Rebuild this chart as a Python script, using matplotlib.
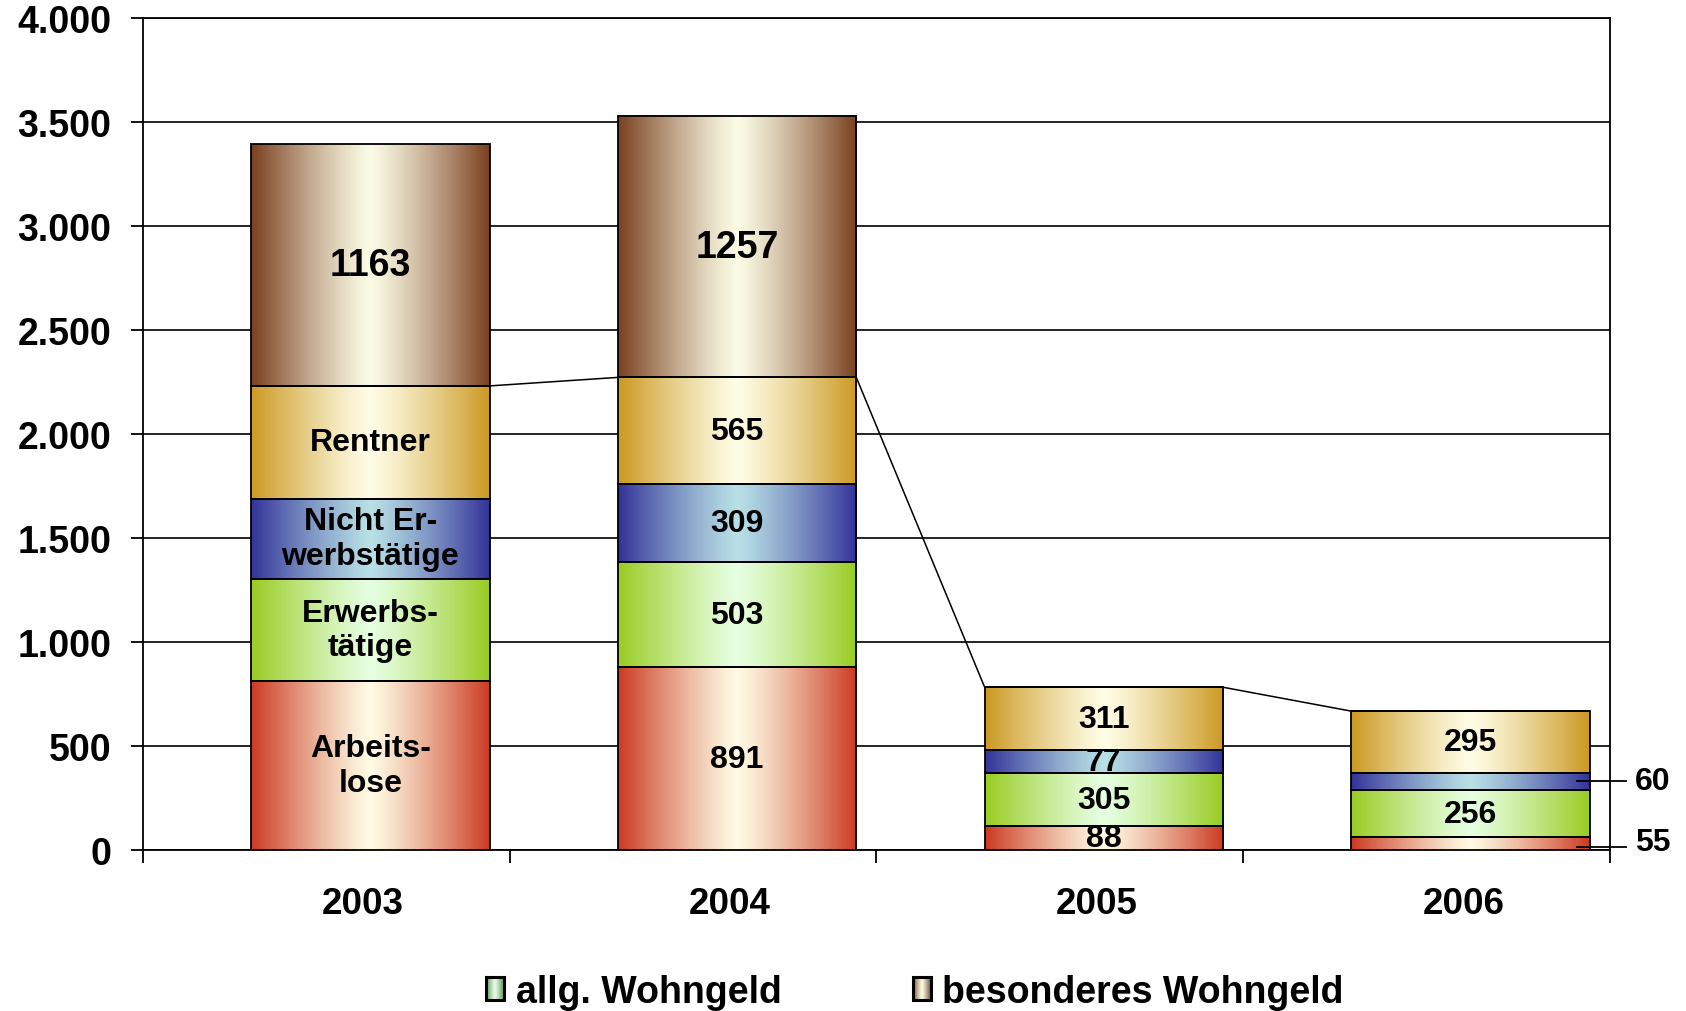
"""
Wohngeldempfaenger 2003-2006 as stacked bars with horizontal gradient fills.
"""

import numpy as np
import matplotlib
matplotlib.use('Agg')
import matplotlib.pyplot as plt
from matplotlib.colors import to_rgb
from matplotlib.patches import Rectangle

plt.rcParams['font.family'] = ['Liberation Sans', 'DejaVu Sans']
plt.rcParams['font.weight'] = 'bold'

# --- data -------------------------------------------------------------
years = ['2003', '2004', '2005', '2006']
groups = ['Arbeitslose', 'Erwerbstätige', 'Nicht Erwerbstätige', 'Rentner', 'besonderes Wohngeld']

# segment heights as drawn (bottom to top)
arbeitslose = [811, 878, 115, 64]
erwerbstaetige = [493, 506, 256, 223]
nicht_erwerbstaetige = [386, 376, 109, 86]
rentner = [542, 513, 303, 295]
besonderes = [1163, 1257, 0, 0]

# label texts written in the segments
labels_arbeitslose = ['Arbeits-\nlose', '891', '88', '']
labels_erwerbstaetige = ['Erwerbs-\ntätige', '503', '305', '256']
labels_nicht = ['Nicht Er-\nwerbstätige', '309', '77', '']
labels_rentner = ['Rentner', '565', '311', '295']
labels_besonderes = ['1163', '1257', '', '']
outside_labels = ['55', '60']  # 2006: Arbeitslose, Nicht Erwerbstätige

legend_labels = ['allg. Wohngeld', 'besonderes Wohngeld']
yticks = [0, 500, 1000, 1500, 2000, 2500, 3000, 3500, 4000]

# edge colour / centre colour of each gradient
grad_colors = [
    ('#cc3a22', '#fffbe4'),
    ('#99cc22', '#e6ffe2'),
    ('#333399', '#b8e0e6'),
    ('#cc9922', '#fffde6'),
    ('#7a4020', '#fcfce6'),
]
legend_grad = [('#4c9a4c', '#eafaea'), ('#6e4a30', '#fcfce6')]


def gradient_image(edge, centre, n=256, power=1.2):
    """1 x n RGB image: edge colour at both sides, centre colour in the middle."""
    t = np.abs(np.linspace(-1, 1, n)) ** power
    e = np.array(to_rgb(edge))
    c = np.array(to_rgb(centre))
    img = c[None, :] + (e - c)[None, :] * t[:, None]
    return img[None, :, :]


fig = plt.figure(figsize=(16.86, 10.12), dpi=100)
ax = fig.add_axes([0.0848, 0.159, 0.8701, 0.822])

x = np.arange(len(years))
offset = 0.12
width = 0.65
series = [arbeitslose, erwerbstaetige, nicht_erwerbstaetige, rentner, besonderes]
series_labels = [labels_arbeitslose, labels_erwerbstaetige, labels_nicht,
                 labels_rentner, labels_besonderes]

bottom = np.zeros(len(years))
rentner_top = None
for vals, texts, (edge, centre) in zip(series, series_labels, grad_colors):
    vals = np.array(vals, dtype=float)
    bars = ax.bar(x + offset, vals, width, bottom=bottom, facecolor='none',
                  edgecolor='black', linewidth=1.3, zorder=4)
    img = gradient_image(edge, centre)
    for rect, txt in zip(bars, texts):
        if rect.get_height() <= 0:
            continue
        x0, y0 = rect.get_x(), rect.get_y()
        x1, y1 = x0 + rect.get_width(), y0 + rect.get_height()
        ax.imshow(img, extent=[x0, x1, y0, y1], aspect='auto',
                  interpolation='bilinear', zorder=3)
        if txt:
            size = 27 if txt in ('1163', '1257') else 23
            ax.text(x0 + rect.get_width() / 2, y0 + rect.get_height() / 2, txt,
                    ha='center', va='center', fontsize=size, fontweight='bold',
                    linespacing=1.2, zorder=5)
    bottom = bottom + vals
    if texts is labels_rentner:
        rentner_top = bottom.copy()

# series lines between the tops of the allg. Wohngeld stacks
for i in range(len(years) - 1):
    ax.plot([x[i] + offset + width / 2, x[i + 1] + offset - width / 2],
            [rentner_top[i], rentner_top[i + 1]], color='black', lw=1.1, zorder=2)

# labels of the thin 2006 segments, outside the plot with leader lines
last = len(years) - 1
red_y = arbeitslose[last] * 0.25
blue_y = arbeitslose[last] + erwerbstaetige[last] + nicht_erwerbstaetige[last] / 2
lx0 = x[last] + offset + width / 2 - 0.035
lx1 = 3.545
for ly, ty, txt in [(red_y, red_y + 22, outside_labels[0]),
                    (blue_y, blue_y, outside_labels[1])]:
    ax.plot([lx0, lx1], [ly, ly], color='black', lw=1.3, zorder=6, clip_on=False)
    ax.text(lx1 + 0.022, ty, txt, ha='left', va='center', fontsize=23,
            fontweight='bold', clip_on=False)

# axes
ax.set_xlim(-0.5, 3.5)
ax.set_ylim(0, 4000)
ax.set_yticks(yticks)
ax.set_yticklabels([f'{v:,.0f}'.replace(',', '.') for v in yticks],
                   fontsize=27, fontweight='bold')
ax.set_xticks(x + 0.1)
ax.set_xticklabels(years, fontsize=26.5, fontweight='bold')
ax.set_xticks(np.arange(-0.5, len(years)), minor=True)
ax.tick_params(axis='x', which='major', length=0, pad=26)
ax.tick_params(axis='x', which='minor', length=9, width=1.3, direction='out')
ax.tick_params(axis='y', length=9, width=1.3, direction='out', pad=14)
ax.yaxis.grid(True, color='black', lw=1.2)
ax.set_axisbelow(True)
for sp in ax.spines.values():
    sp.set_linewidth(1.3)
    sp.set_color('black')

# legend at the bottom with gradient swatches
legend_x = [0.2885, 0.5415]
for lx, txt, (edge, centre) in zip(legend_x, legend_labels, legend_grad):
    sw = fig.add_axes([lx, 0.0105, 0.0105, 0.023])
    sw.imshow(gradient_image(edge, centre), aspect='auto', extent=[0, 1, 0, 1])
    sw.add_patch(Rectangle((0, 0), 1, 1, fill=False, edgecolor='black', lw=2.2,
                           transform=sw.transAxes, clip_on=False))
    sw.set_axis_off()
    fig.text(lx + 0.0175, 0.019, txt, ha='left', va='center', fontsize=27,
             fontweight='bold')

fig.savefig('out.png', dpi=100)
